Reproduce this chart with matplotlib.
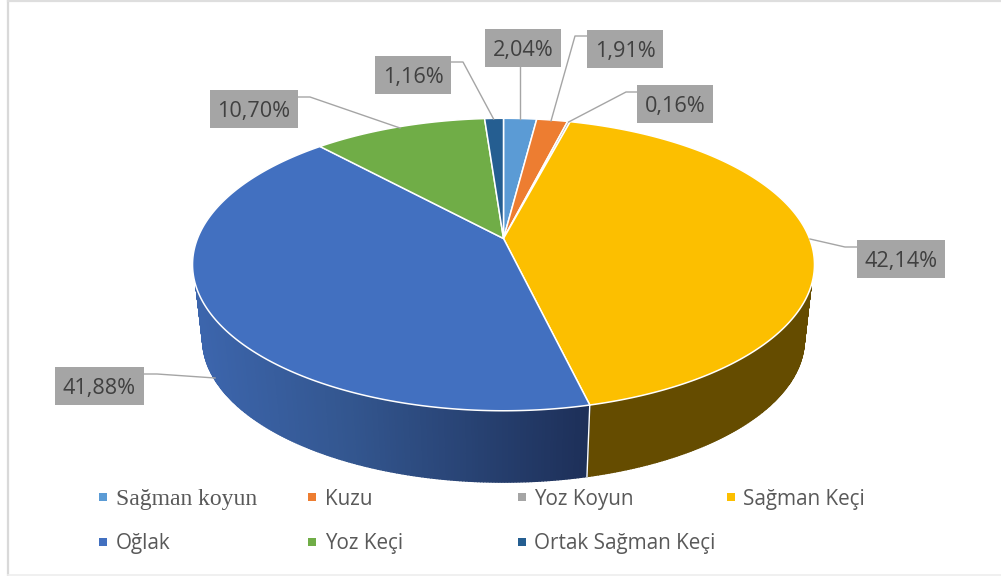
import numpy as np
import matplotlib
matplotlib.use('Agg')
import matplotlib.pyplot as plt
from matplotlib.patches import Rectangle
from matplotlib.colors import to_rgb

categories = ['Sağman koyun', 'Kuzu', 'Yoz Koyun', 'Sağman Keçi', 'Oğlak', 'Yoz Keçi', 'Ortak Sağman Keçi']
values = [2.04, 1.91, 0.16, 42.14, 41.88, 10.70, 1.16]
value_labels = ['2,04%', '1,91%', '0,16%', '42,14%', '41,88%', '10,70%', '1,16%']
colors = ['#5B9BD5', '#ED7D31', '#A5A5A5', '#FCBF00', '#4270C0', '#70AD47', '#255E91']

# pie geometry in pixels, perspective view of a disc
CX = 503.5
TOP_Y = 238.5
BOTTOM_Y = 314
K = 0.178
A = 141.6
B = 306
LOW_A = 138.2
LOW_B = 296
SIDE_START = np.radians(108.7)


def rim(theta, a, b, cy):
    w = 1 + K * np.cos(theta)
    return CX + b * np.sin(theta) / w, cy - a * np.cos(theta) / w


def top_rim(theta):
    return rim(theta, A, B, TOP_Y)


def low_rim(theta):
    return rim(theta, LOW_A, LOW_B, BOTTOM_Y)


def side_colour(i, x):
    # only the two front slices show their side
    if i == 3:
        return '#654C00'
    stops = np.array([to_rgb('#3C65AC'), to_rgb('#33568F'), to_rgb('#1D2F58')])
    return tuple(np.interp(x, [203, 350, 590], stops[:, c]) for c in range(3))


def plot_pie(ax):
    edges = np.radians(np.cumsum([0] + values) * 360 / sum(values))
    front0, front1 = np.arccos(-K), 2 * np.pi - np.arccos(-K)

    for i in range(len(values)):
        t0, t1 = max(edges[i], front0), min(edges[i + 1], front1)
        if t1 <= t0:
            continue
        ts = np.linspace(t0, t1, int((t1 - t0) * 120) + 2)
        for a, b in zip(ts[:-1], ts[1:]):
            # the upper end stays put near the widest part, as in the shaded side
            upper = np.clip(np.array([a, b]), SIDE_START, 2 * np.pi - SIDE_START)
            xa, ya = top_rim(upper)
            xb, yb = low_rim(np.array([b, a]))
            col = side_colour(i, (xa.mean() + xb.mean()) / 2)
            ax.fill(np.r_[xa, xb], np.r_[ya, yb], color=col, lw=1.0, zorder=2)

    # white seam between the two visible sides
    seam = edges[4]
    sx0, sy0 = top_rim(seam)
    sx1, sy1 = low_rim(seam)
    ax.plot([sx0, sx1], [sy0, sy1], color='white', lw=1.0, zorder=3)

    for i in range(len(values)):
        ts = np.linspace(edges[i], edges[i + 1], max(int((edges[i + 1] - edges[i]) * 90), 3))
        x, y = top_rim(ts)
        ax.fill(np.r_[CX, x], np.r_[TOP_Y, y], facecolor=colors[i], edgecolor='white',
                lw=1.1, joinstyle='round', zorder=4)


# label boxes: x0, x1, y0, y1 and the leader line
boxes = [(485, 561, 29, 67), (587, 663, 30, 68), (637, 713, 85, 123), (857, 945, 240, 278),
         (55, 144, 367, 405), (210, 298, 90, 128), (375, 451, 56, 94)]
leaders = [[(519.6, 67), (519.6, 119)],
           [(587, 36), (575, 36), (551, 121)],
           [(637, 92), (626, 92), (568.6, 122)],
           [(857, 247), (845, 247), (810, 239)],
           [(144, 374), (157, 374), (215, 378)],
           [(298, 97), (310, 97), (400, 128)],
           [(451, 62), (463, 62), (493.6, 119)]]

# legend: marker left edge, marker top, text x, baseline
legend_pos = [(99, 493, 116, 505), (308, 493, 325, 505), (518, 493, 534, 505), (727, 493, 743, 505),
              (99, 538, 116, 549), (308, 538, 325, 549), (518, 538, 534, 549)]


def plot_chart():
    fig = plt.figure(figsize=(10.01, 5.76), dpi=100)
    ax = fig.add_axes([0, 0, 1, 1])
    ax.set_xlim(0, 1001)
    ax.set_ylim(576, 0)
    ax.axis('off')

    ax.plot([8, 8], [1, 575], color='#D9D9D9', lw=1.6, zorder=1)
    ax.plot([8, 1001], [1, 1], color='#DEDEDE', lw=1.6, zorder=1)
    ax.plot([8, 1001], [575, 575], color='#EEEEEE', lw=1.2, zorder=1)

    plot_pie(ax)

    for box, line, text in zip(boxes, leaders, value_labels):
        lx, ly = zip(*line)
        ax.plot(lx, ly, color='#A5A5A5', lw=1.0, zorder=5)
        ax.add_patch(Rectangle((box[0], box[2]), box[1] - box[0], box[3] - box[2],
                               facecolor='#A5A5A5', edgecolor='none', zorder=6))
        ax.text((box[0] + box[1]) / 2, (box[2] + box[3]) / 2 + 2.5, text, family='Open Sans',
                fontsize=15.6, color='#404040', ha='center', va='center', zorder=7)

    for i, (mx, my, tx, ty) in enumerate(legend_pos):
        ax.add_patch(Rectangle((mx, my), 8, 8, facecolor=colors[i], edgecolor='none', zorder=6))
        if i == 0:
            ax.text(tx, ty, categories[i], family='Liberation Serif', fontsize=17,
                    color='#595959', va='baseline', zorder=7)
        else:
            ax.text(tx, ty, categories[i], family='Open Sans', fontsize=14.9,
                    color='#595959', va='baseline', zorder=7)

    fig.savefig('out.png', dpi=100)


if __name__ == '__main__':
    plot_chart()
